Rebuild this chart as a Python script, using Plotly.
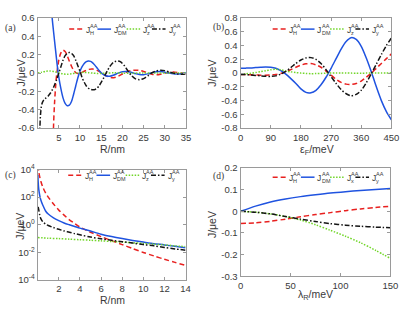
import plotly.graph_objects as go

W, H = 415, 312

# ---------------- Panel (a): J vs R ----------------
a_h_R = [3.5, 3.75, 4.0, 4.25, 4.5, 5.0, 5.5, 6.0, 6.5, 7.0, 7.5, 8.0, 8.5, 9.0, 9.5, 10,
         11, 12, 13, 14, 15, 16, 17, 18, 19, 20, 21, 22, 23, 24, 25, 26, 27, 28, 29, 30, 31, 32, 33, 34, 35]
a_h = [-1.3, -0.6, -0.33, -0.15, -0.02, 0.14, 0.22, 0.25, 0.235, 0.19, 0.13, 0.075, 0.03, 0.005, -0.005, 0.0,
       0.02, 0.04, 0.045, 0.03, 0.005, -0.025, -0.045, -0.05, -0.035, -0.01, 0.012, 0.027, 0.032, 0.03, 0.018,
       0.0, -0.013, -0.018, -0.012, 0.0, 0.01, 0.012, 0.007, 0.0, -0.004]

a_dm_R = [3.0, 3.4, 3.8, 4.2, 4.6, 5.0, 5.5, 6.0, 6.5, 7.0, 7.5, 8.0, 8.5, 9.0, 9.5, 10, 10.5, 11, 11.5, 12,
          12.5, 13, 13.5, 14, 14.5, 15, 16, 17, 18, 19, 20, 21, 22, 23, 24, 25, 26, 27, 28, 29, 30, 31, 32, 33, 34, 35]
a_dm = [0.85, 0.62, 0.44, 0.27, 0.1, -0.04, -0.17, -0.27, -0.33, -0.355, -0.35, -0.31, -0.23, -0.14, -0.05, 0.02,
        0.07, 0.105, 0.125, 0.132, 0.128, 0.112, 0.087, 0.058, 0.028, 0.002, -0.028, -0.033, -0.02, 0.0, 0.015,
        0.018, 0.01, -0.005, -0.015, -0.017, -0.008, 0.005, 0.015, 0.017, 0.01, 0.0, -0.008, -0.01, -0.006, 0.0]

a_z_R = [0, 1, 2, 3, 4, 5, 6, 7, 8, 9, 10, 11, 12, 13, 14, 15, 16, 18, 20, 22, 25, 28, 31, 35]
a_z = [0.0, 0.01, 0.02, 0.022, 0.015, 0.003, -0.008, -0.012, -0.008, 0.0, 0.006, 0.008, 0.005, 0.0, -0.004,
       -0.004, 0.0, 0.003, 0.0, -0.002, 0.002, 0.0, 0.001, 0.0]

a_y_R = [0.4, 0.55, 0.7, 1.0, 1.5, 2.0, 2.5, 3.0, 3.5, 4.0, 4.5, 5.0, 5.5, 6.0, 6.5, 7.0, 7.5, 8.0, 8.5, 9.0,
         9.5, 10.0, 10.5, 11.0, 11.5, 12.0, 12.5, 13.0, 13.5, 14.0, 14.5, 15.0, 15.5, 16.0, 16.5, 17.0, 17.5,
         18.0, 18.5, 19.0, 19.5, 20.0, 20.5, 21.0, 21.5, 22, 23, 24, 25, 26, 27, 28, 29, 30, 31, 32, 33, 34, 35]
a_y = [-0.8, -0.6, -0.45, -0.34, -0.29, -0.27, -0.25, -0.22, -0.18, -0.13, -0.07, 0.0, 0.07, 0.14, 0.19, 0.215,
       0.225, 0.215, 0.19, 0.14, 0.08, 0.02, -0.05, -0.1, -0.14, -0.165, -0.178, -0.182, -0.18, -0.165, -0.14,
       -0.1, -0.06, -0.015, 0.03, 0.07, 0.1, 0.12, 0.13, 0.132, 0.125, 0.105, 0.08, 0.045, 0.012, -0.02, -0.06,
       -0.072, -0.06, -0.03, 0.005, 0.025, 0.032, 0.027, 0.013, 0.0, -0.01, -0.012, -0.008]

a_xticks = [5, 10, 15, 20, 25, 30, 35]
a_yticks = [-0.6, -0.4, -0.2, 0, 0.2, 0.4, 0.6]
a_yticktext = ["-0.6", "-0.4", "-0.2", "0", "0.2", "0.4", "0.6"]

# ---------------- Panel (b): J vs eps_F ----------------
b_eps = [0, 15, 30, 45, 60, 75, 90, 105, 120, 135, 150, 165, 180, 195, 210, 225, 240, 255, 270, 285, 300,
         315, 330, 345, 360, 375, 390, 405, 420, 435, 450]
b_h = [-0.02, -0.022, -0.025, -0.028, -0.03, -0.03, -0.027, -0.02, -0.005, 0.018, 0.05, 0.085, 0.115, 0.135,
       0.138, 0.12, 0.085, 0.03, -0.03, -0.09, -0.135, -0.16, -0.165, -0.15, -0.115, -0.06, 0.0, 0.07, 0.14,
       0.21, 0.28]
b_dm = [0.07, 0.072, 0.075, 0.08, 0.085, 0.088, 0.085, 0.07, 0.035, -0.015, -0.08, -0.15, -0.23, -0.28, -0.285,
        -0.25, -0.17, -0.06, 0.07, 0.21, 0.35, 0.46, 0.515, 0.49, 0.39, 0.22, 0.02, -0.2, -0.4, -0.56, -0.68]
b_z = [-0.015, -0.01, -0.003, 0.008, 0.02, 0.035, 0.048, 0.055, 0.048, 0.032, 0.018, 0.008, 0.0, -0.005, -0.008,
       -0.007, -0.004, 0.0, 0.002, 0.003, 0.003, 0.002, 0.0, -0.001, -0.001, 0.0, 0.0, 0.0, 0.0, 0.0, 0.0]
b_y = [-0.02, -0.022, -0.027, -0.033, -0.04, -0.046, -0.048, -0.04, -0.015, 0.025, 0.08, 0.14, 0.19, 0.22,
       0.225, 0.2, 0.14, 0.05, -0.05, -0.15, -0.24, -0.3, -0.33, -0.31, -0.25, -0.14, -0.01, 0.13, 0.27, 0.4, 0.51]

b_xticks = [0, 90, 180, 270, 360, 450]
b_yticks = [-0.8, -0.6, -0.4, -0.2, 0, 0.2, 0.4, 0.6, 0.8]
b_yticktext = ["-0.8", "-0.6", "-0.4", "-0.2", "0", "0.2", "0.4", "0.6", "0.8"]

# ---------------- Panel (c): |J| vs R (log) ----------------
c_R = [0.05, 0.1, 0.2, 0.3, 0.5, 0.75, 1, 1.5, 2, 2.5, 3, 3.5, 4, 5, 6, 7, 8, 9, 10, 11, 12, 13, 14]
c_h = [20000, 7000, 2800, 1400, 500, 200, 100, 32, 11.5, 5.0, 2.3, 1.26, 0.68, 0.29, 0.14, 0.071, 0.037,
       0.019, 0.01, 0.0056, 0.0032, 0.0019, 0.00117]
c_y = [20, 12.6, 5.0, 2.8, 1.6, 1.12, 0.89, 0.63, 0.47, 0.36, 0.29, 0.23, 0.19, 0.13, 0.098, 0.076, 0.06,
       0.048, 0.037, 0.03, 0.023, 0.018, 0.0145]
c_dm_R = [0.02, 0.05, 0.1, 0.2, 0.3, 0.5, 0.75, 1, 1.5, 2, 2.5, 3, 3.5, 4, 5, 6, 7, 8, 9, 10, 11, 12, 13, 14]
c_dm = [4000, 1260, 400, 126, 63, 25, 10, 6.0, 3.2, 2.0, 1.35, 1.0, 0.76, 0.575, 0.35, 0.21, 0.14, 0.1,
        0.074, 0.056, 0.043, 0.035, 0.0275, 0.022]
c_z_R = [0.02, 1, 2, 3, 4, 5, 6, 7, 8, 9, 10, 11, 12, 13, 14]
c_z = [0.12, 0.107, 0.1, 0.091, 0.083, 0.076, 0.069, 0.062, 0.056, 0.05, 0.045, 0.04, 0.035, 0.03, 0.026]

c_xticks = [2, 4, 6, 8, 10, 12, 14]
c_yticks = [1e-4, 1e-2, 1, 1e2, 1e4]
c_yticktext = ["10<sup>-4</sup>", "10<sup>-2</sup>", "10<sup>0</sup>", "10<sup>2</sup>", "10<sup>4</sup>"]

# ---------------- Panel (d): J vs lambda_R ----------------
d_lam = [0, 15, 30, 45, 60, 75, 90, 105, 120, 135, 150]
d_h = [-0.056, -0.053, -0.046, -0.036, -0.025, -0.015, -0.006, 0.003, 0.011, 0.018, 0.023]
d_dm = [0.0, 0.024, 0.043, 0.057, 0.068, 0.077, 0.085, 0.091, 0.096, 0.101, 0.105]
d_x = [0.0, -0.004, -0.012, -0.024, -0.04, -0.062, -0.088, -0.115, -0.145, -0.18, -0.218]
d_y = [0.0, -0.004, -0.012, -0.024, -0.036, -0.047, -0.057, -0.064, -0.069, -0.073, -0.076]

d_xticks = [0, 50, 100, 150]
d_yticks = [-0.3, -0.2, -0.1, 0, 0.1, 0.2]
d_yticktext = ["-0.3", "-0.2", "-0.1", "0", "0.1", "0.2"]

# ---------------- style ----------------
RED, BLUE, GREEN, BLACK = "#e8201f", "#1f53e0", "#72d62a", "#151515"
DASH_H, DASH_Z, DASH_Y = "5px,3px", "1.5px,1.5px", "5px,2px,1.5px,2px"
AX = "#9a9a9a"
TXT = "#3a3a3a"
FONT = "Liberation Sans, Arial, sans-serif"
SERIF = "Liberation Serif, Times New Roman, serif"

STYLE = {
    "H": dict(color=RED, dash=DASH_H),
    "DM": dict(color=BLUE, dash="solid"),
    "z": dict(color=GREEN, dash=DASH_Z),
    "x": dict(color=GREEN, dash=DASH_Z),
    "y": dict(color=BLACK, dash=DASH_Y),
}

fig = go.Figure()


def add(xs, ys, key, ax):
    st = STYLE[key]
    fig.add_trace(go.Scatter(
        x=xs, y=ys, mode="lines", showlegend=False, hoverinfo="skip",
        line=dict(color=st["color"], dash=st["dash"], width=1.5, shape="spline", smoothing=0.8),
        xaxis="x" + ax, yaxis="y" + ax))


add(a_h_R, a_h, "H", "")
add(a_dm_R, a_dm, "DM", "")
add(a_z_R, a_z, "z", "")
add(a_y_R, a_y, "y", "")

add(b_eps, b_h, "H", "2")
add(b_eps, b_dm, "DM", "2")
add(b_eps, b_z, "z", "2")
add(b_eps, b_y, "y", "2")

add(c_R, c_h, "H", "3")
add(c_dm_R, c_dm, "DM", "3")
add(c_z_R, c_z, "z", "3")
add(c_R, c_y, "y", "3")

add(d_lam, d_h, "H", "4")
add(d_lam, d_dm, "DM", "4")
add(d_lam, d_x, "x", "4")
add(d_lam, d_y, "y", "4")


def base_axis():
    return dict(showline=True, linecolor=AX, linewidth=1, mirror="ticks", ticks="inside", ticklen=3,
                tickcolor=AX, tickwidth=1, showgrid=False, zeroline=False,
                tickfont=dict(family=FONT, size=9.5, color=TXT))


def dom_x(l, r):
    return [l / W, r / W]


def dom_y(t, b):
    return [1 - b / H, 1 - t / H]


PANEL_A = dict(x=(35.5, 188), y=(11.5, 126))
PANEL_B = dict(x=(244, 399), y=(11.5, 126))
PANEL_C = dict(x=(35.6, 187.5), y=(169, 284))
PANEL_D = dict(x=(244, 398), y=(167.5, 280))

lay = dict(width=W, height=H, margin=dict(l=0, r=0, t=0, b=0), plot_bgcolor="white",
           paper_bgcolor="white", showlegend=False)

lay["xaxis"] = dict(base_axis(), domain=dom_x(*PANEL_A["x"]), range=[0, 35], tickvals=a_xticks, anchor="y")
lay["yaxis"] = dict(base_axis(), domain=dom_y(*PANEL_A["y"]), range=[-0.6, 0.6], tickvals=a_yticks,
                    ticktext=a_yticktext, anchor="x")
lay["xaxis2"] = dict(base_axis(), domain=dom_x(*PANEL_B["x"]), range=[0, 450], tickvals=b_xticks, anchor="y2")
lay["yaxis2"] = dict(base_axis(), domain=dom_y(*PANEL_B["y"]), range=[-0.8, 0.8], tickvals=b_yticks,
                     ticktext=b_yticktext, anchor="x2")
lay["xaxis3"] = dict(base_axis(), domain=dom_x(*PANEL_C["x"]), range=[0, 14], tickvals=c_xticks, anchor="y3")
lay["yaxis3"] = dict(base_axis(), domain=dom_y(*PANEL_C["y"]), type="log", range=[-4, 4], tickvals=c_yticks,
                     ticktext=c_yticktext, anchor="x3")
lay["xaxis4"] = dict(base_axis(), domain=dom_x(*PANEL_D["x"]), range=[0, 150], tickvals=d_xticks, anchor="y4")
lay["yaxis4"] = dict(base_axis(), domain=dom_y(*PANEL_D["y"]), range=[-0.3, 0.2], tickvals=d_yticks,
                     ticktext=d_yticktext, anchor="x4")

fig.update_layout(**lay)

ann = []
shapes = []


def text(px, py, s, size=10.5, angle=0, family=FONT, xanchor="center", color=TXT):
    ann.append(dict(x=px / W, y=1 - py / H, xref="paper", yref="paper", text=s, showarrow=False,
                    textangle=angle, font=dict(family=family, size=size, color=color),
                    xanchor=xanchor, yanchor="middle"))


# axis titles
text(18, 68.5, "J/μeV", angle=-90)
text(112, 148, "R/nm")
text(214.5, 68.5, "J/μeV", angle=-90)
text(323, 149, "ε<sub>F</sub>/meV")
text(18, 228, "J/μeV", angle=-90)
text(112, 305, "R/nm")
text(214.5, 226, "J/μeV", angle=-90)
text(321, 300, "λ<sub>R</sub>/meV")

# panel labels
text(8, 22, "(a)", size=9.5, family=SERIF)
text(221, 21, "(b)", size=9.5, family=SERIF)
text(8, 175, "(c)", size=9.5, family=SERIF)
text(221, 176, "(d)", size=9.5, family=SERIF)


# legends
def legend(x0, yc, keys):
    offs = [0, 29, 59, 85]
    for off, key in zip(offs, keys):
        st = STYLE[key]
        xs = x0 + off
        shapes.append(dict(type="line", xref="paper", yref="paper", x0=xs / W, x1=(xs + 14) / W,
                           y0=1 - yc / H, y1=1 - yc / H,
                           line=dict(color=st["color"], width=1.5, dash=st["dash"])))
        text(xs + 15, yc + 0.5, "J", size=8.5, xanchor="left")
        text(xs + 19.3, yc - 3.2, "AA", size=5.5, xanchor="left")
        text(xs + 19.3, yc + 3.6, key, size=5.5, xanchor="left")


legend(68, 23, ["H", "DM", "z", "y"])
legend(277, 23, ["H", "DM", "z", "y"])
legend(67, 175, ["H", "DM", "z", "y"])
legend(277, 177, ["H", "DM", "x", "y"])

fig.update_layout(annotations=ann, shapes=shapes)

fig.write_html("out.html", config={"displayModeBar": False},
               post_script="document.body.style.margin='0';")
